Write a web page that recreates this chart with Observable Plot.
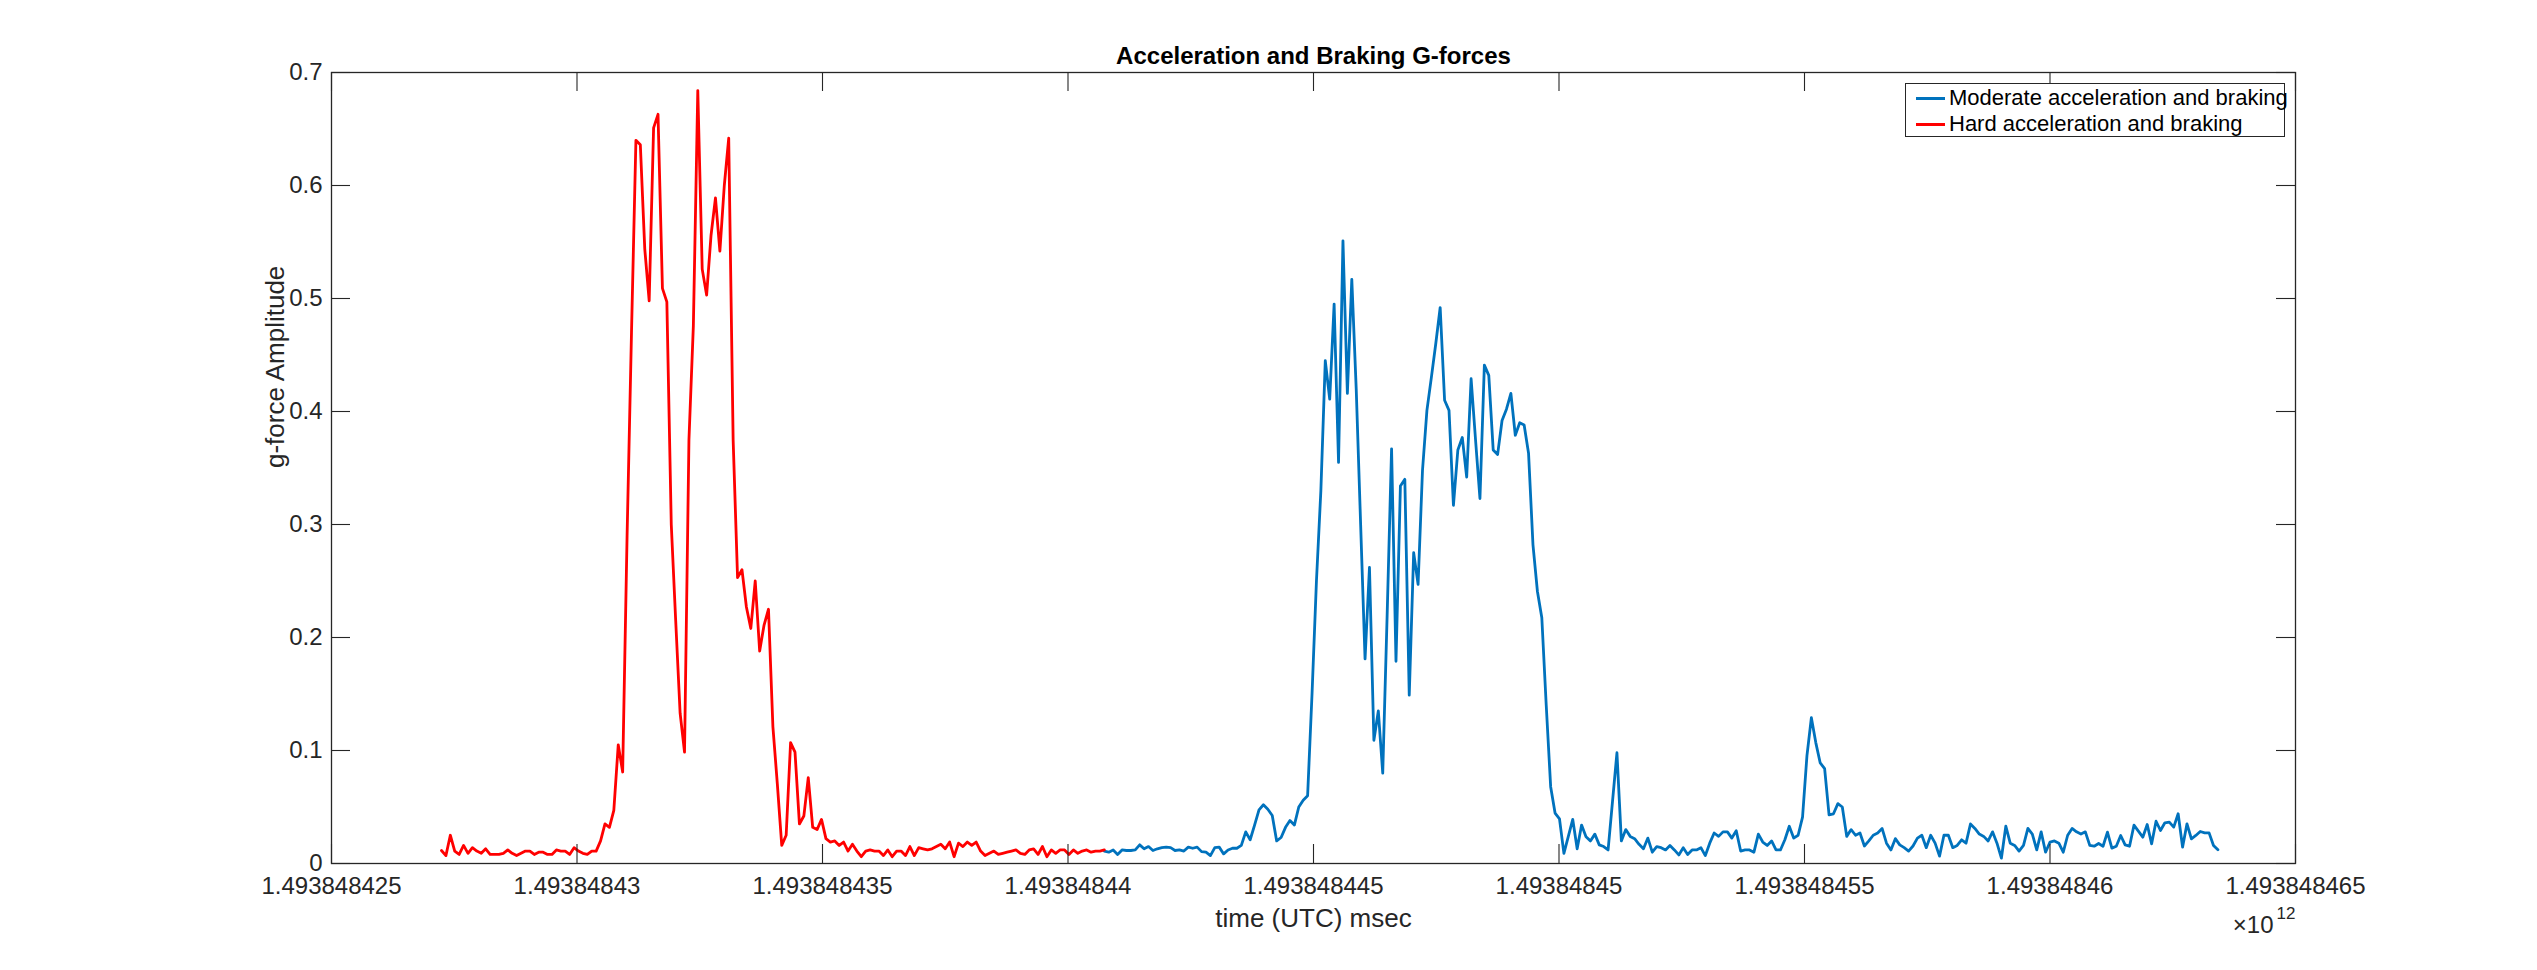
<!DOCTYPE html>
<html>
<head>
<meta charset="utf-8">
<script src="https://cdn.jsdelivr.net/npm/d3@7"></script>
<script src="https://cdn.jsdelivr.net/npm/@observablehq/plot@0.6"></script>
<style>
  html, body { margin: 0; padding: 0; background: #fff; }
  #wrap { position: relative; width: 2537px; height: 970px; font-family: "Liberation Sans", Arial, Helvetica, sans-serif; }
  #legend { position: absolute; left: 1905px; top: 83px; width: 380px; height: 54px; box-sizing: border-box;
            border: 1.3px solid #262626; background: #fff; }
  .row { position: absolute; left: 0; height: 26px; display: flex; align-items: center; }
  .sw { display: inline-block; width: 29px; height: 3px; margin-left: 10px; margin-right: 4px; }
  .lab { font-size: 22px; color: #000; white-space: nowrap; }
</style>
</head>
<body>
<div id="wrap"><div id="chart"></div><div id="legend"></div></div>
<script>
// ---------- data ----------
const T0 = 1493848425000;          // ms (x axis origin)
const sampleStep = 90;             // ms between samples
const redStartOffset = 2240;       // ms after T0
const blueStartOffset = 15740;     // ms after T0

const xTicks = [1493848425000, 1493848430000, 1493848435000, 1493848440000, 1493848445000,
                1493848450000, 1493848455000, 1493848460000, 1493848465000];
const yTicks = [0, 0.1, 0.2, 0.3, 0.4, 0.5, 0.6, 0.7];

const seriesNames = ["Moderate acceleration and braking", "Hard acceleration and braking"];
const seriesColors = ["#0072BD", "#FF0000"];

// Hard acceleration and braking (red)
const hardValues = [
  0.0115, 0.007, 0.025, 0.011, 0.008, 0.016, 0.009, 0.014, 0.011, 0.009,
  0.013, 0.008, 0.008, 0.008, 0.009, 0.012, 0.009, 0.007, 0.009, 0.011,
  0.011, 0.008, 0.010, 0.010, 0.008, 0.008, 0.012, 0.011, 0.011, 0.008,
  0.014, 0.011, 0.009, 0.008, 0.011, 0.011, 0.020, 0.035, 0.032, 0.047,
  0.105, 0.081, 0.29, 0.47, 0.640, 0.636, 0.544, 0.498, 0.651, 0.663,
  0.509, 0.497, 0.30, 0.215, 0.133, 0.0985, 0.375, 0.476, 0.684, 0.526,
  0.503, 0.556, 0.589, 0.542, 0.60, 0.642, 0.375, 0.253, 0.260, 0.227,
  0.208, 0.250, 0.188, 0.211, 0.225, 0.121, 0.0705, 0.016, 0.025, 0.107,
  0.0985, 0.035, 0.042, 0.076, 0.032, 0.030, 0.039, 0.022, 0.019, 0.020,
  0.016, 0.019, 0.011, 0.017, 0.011, 0.006, 0.011, 0.012, 0.011, 0.011,
  0.007, 0.012, 0.006, 0.011, 0.011, 0.007, 0.015, 0.007, 0.014, 0.013,
  0.012, 0.013, 0.015, 0.017, 0.013, 0.019, 0.006, 0.018, 0.015, 0.019,
  0.016, 0.019, 0.011, 0.007, 0.009, 0.011, 0.008, 0.009, 0.010, 0.011,
  0.012, 0.009, 0.008, 0.012, 0.013, 0.008, 0.015, 0.006, 0.012, 0.009,
  0.012, 0.012, 0.008, 0.012, 0.009, 0.011, 0.012, 0.010, 0.011, 0.011, 0.012
];

// Moderate acceleration and braking (blue)
const moderateValues = [
  0.011, 0.010, 0.012, 0.008, 0.012, 0.0115, 0.0115, 0.012, 0.0165, 0.013,
  0.015, 0.0115, 0.013, 0.014, 0.0145, 0.014, 0.0115, 0.012, 0.011, 0.0145,
  0.0135, 0.0145, 0.0105, 0.010, 0.007, 0.014, 0.0145, 0.0085, 0.012, 0.0135,
  0.0135, 0.016, 0.028, 0.021, 0.034, 0.0475, 0.052, 0.048, 0.0425, 0.020,
  0.023, 0.032, 0.038, 0.034, 0.050, 0.056, 0.060, 0.15, 0.25, 0.33,
  0.445, 0.411, 0.495, 0.355, 0.551, 0.416, 0.517, 0.42, 0.30, 0.181,
  0.262, 0.109, 0.135, 0.080, 0.22, 0.367, 0.179, 0.334, 0.340, 0.149,
  0.275, 0.247, 0.348, 0.401, 0.43, 0.46, 0.492, 0.41, 0.401, 0.317,
  0.366, 0.377, 0.342, 0.429, 0.375, 0.323, 0.441, 0.432, 0.366, 0.362,
  0.392, 0.402, 0.416, 0.379, 0.390, 0.388, 0.363, 0.282, 0.241, 0.2175,
  0.14, 0.068, 0.0446, 0.0395, 0.009, 0.024, 0.039, 0.013, 0.034, 0.0236,
  0.020, 0.026, 0.0165, 0.015, 0.012, 0.055, 0.098, 0.020, 0.030, 0.024,
  0.022, 0.017, 0.013, 0.0225, 0.010, 0.015, 0.014, 0.012, 0.016, 0.012,
  0.0076, 0.014, 0.008, 0.012, 0.012, 0.014, 0.007, 0.018, 0.027, 0.024,
  0.028, 0.028, 0.0225, 0.029, 0.011, 0.012, 0.012, 0.010, 0.026, 0.019,
  0.016, 0.020, 0.012, 0.012, 0.021, 0.033, 0.0225, 0.025, 0.041, 0.0955,
  0.129, 0.107, 0.089, 0.084, 0.043, 0.044, 0.053, 0.050, 0.024, 0.030,
  0.025, 0.027, 0.0155, 0.020, 0.025, 0.027, 0.031, 0.018, 0.012, 0.022,
  0.0165, 0.014, 0.011, 0.0155, 0.0225, 0.025, 0.014, 0.025, 0.018, 0.0065,
  0.025, 0.025, 0.014, 0.016, 0.021, 0.018, 0.035, 0.031, 0.026, 0.024,
  0.020, 0.028, 0.018, 0.0047, 0.033, 0.018, 0.016, 0.011, 0.016, 0.031,
  0.026, 0.012, 0.028, 0.010, 0.019, 0.020, 0.018, 0.010, 0.025, 0.031,
  0.028, 0.026, 0.028, 0.016, 0.0153, 0.0177, 0.0153, 0.0277, 0.0136, 0.0153,
  0.0248, 0.0165, 0.0153, 0.0339, 0.0286, 0.0233, 0.0345, 0.0174, 0.0374, 0.0292,
  0.036, 0.0366, 0.0322, 0.044, 0.0145, 0.0351, 0.0218, 0.0248, 0.0283, 0.0271,
  0.0271, 0.016, 0.0121
];

// ---------- tables ----------
const hard = hardValues.map((v, i) => ({t: T0 + redStartOffset + i * sampleStep, v}));
const moderate = moderateValues.map((v, i) => ({t: T0 + blueStartOffset + i * sampleStep, v}));

// ---------- layout ----------
const W = 2537, H = 970;
const mL = 331, mR = 242, mT = 72, mB = 107;
const innerW = W - mL - mR, innerH = H - mT - mB;
const tickLen = 19;
const axisColor = "#262626";

const xFmt = d => String(+(d / 1e12).toFixed(9));
const yFmt = d => String(+d.toFixed(1));

const chart = Plot.plot({
  width: W, height: H,
  marginLeft: mL, marginRight: mR, marginTop: mT, marginBottom: mB,
  style: {fontFamily: '"Liberation Sans", Arial, Helvetica, sans-serif', fontSize: "24px", color: axisColor, background: "#fff", overflow: "visible"},
  x: {type: "linear", domain: [xTicks[0], xTicks[xTicks.length - 1]], label: null},
  y: {type: "linear", domain: [yTicks[0], yTicks[yTicks.length - 1]], label: null},
  marks: [
    Plot.line(moderate, {x: "t", y: "v", stroke: seriesColors[0], strokeWidth: 2.8, strokeLinejoin: "round"}),
    Plot.line(hard, {x: "t", y: "v", stroke: seriesColors[1], strokeWidth: 2.8, strokeLinejoin: "round"}),
    Plot.frame({stroke: axisColor, strokeWidth: 1.3}),
    Plot.tickX(xTicks, {x: d => d, stroke: axisColor, strokeWidth: 1.1, insetTop: innerH - tickLen}),
    Plot.tickX(xTicks, {x: d => d, stroke: axisColor, strokeWidth: 1.1, insetBottom: innerH - tickLen}),
    Plot.tickY(yTicks, {y: d => d, stroke: axisColor, strokeWidth: 1.1, insetRight: innerW - tickLen}),
    Plot.tickY(yTicks, {y: d => d, stroke: axisColor, strokeWidth: 1.1, insetLeft: innerW - tickLen}),
    Plot.axisX(xTicks, {anchor: "bottom", tickFormat: xFmt, tickSize: 0, tickPadding: 13, label: null, fill: axisColor}),
    Plot.axisY(yTicks, {anchor: "left", tickFormat: yFmt, tickSize: 0, tickPadding: 9, label: null, fill: axisColor}),
    Plot.text(["Acceleration and Braking G-forces"], {text: d => d, frameAnchor: "top", dy: -16, lineAnchor: "middle", fontWeight: "bold", fontSize: 24, fill: "#000"}),
    Plot.text(["time (UTC) msec"], {text: d => d, frameAnchor: "bottom", dy: 55, lineAnchor: "middle", fontSize: 26, fill: axisColor}),
    Plot.text(["g-force Amplitude"], {text: d => d, frameAnchor: "left", dx: -56, rotate: -90, lineAnchor: "middle", fontSize: 26, fill: axisColor}),
    Plot.text(["\u00d710"], {text: d => d, frameAnchor: "bottom-right", textAnchor: "end", dx: -22, dy: 62, lineAnchor: "middle", fontSize: 24, fill: axisColor}),
    Plot.text(["12"], {text: d => d, frameAnchor: "bottom-right", textAnchor: "end", dx: 0, dy: 50, lineAnchor: "middle", fontSize: 17, fill: axisColor})
  ]
});
document.getElementById("chart").appendChild(chart);

// ---------- legend ----------
const legend = document.getElementById("legend");
seriesNames.forEach((name, k) => {
  const row = document.createElement("div");
  row.className = "row";
  row.style.top = (1 + k * 26) + "px";
  const sw = document.createElement("span");
  sw.className = "sw";
  sw.style.background = seriesColors[k];
  const lab = document.createElement("span");
  lab.className = "lab";
  lab.textContent = name;
  row.appendChild(sw);
  row.appendChild(lab);
  legend.appendChild(row);
});
</script>
</body>
</html>
